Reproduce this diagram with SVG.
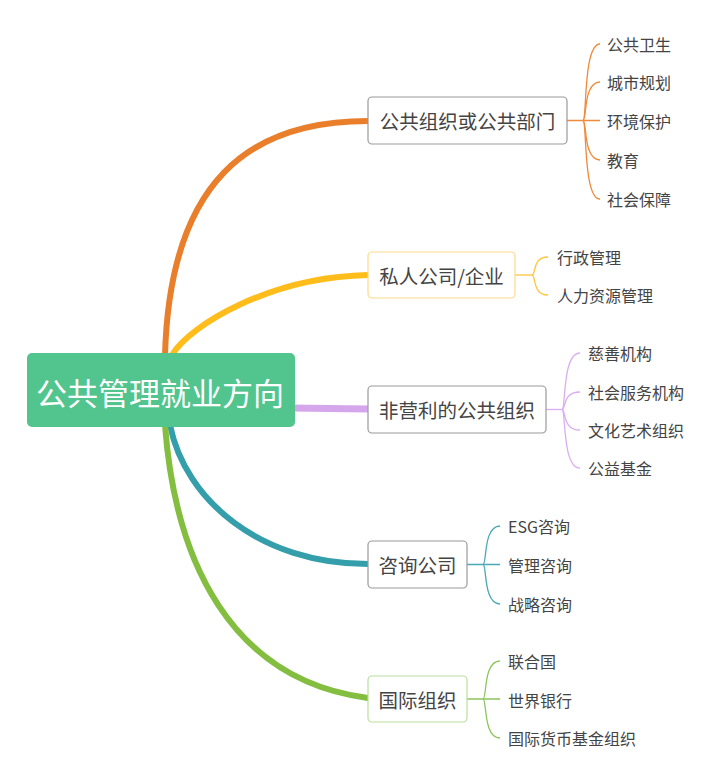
<svg xmlns="http://www.w3.org/2000/svg" width="720" height="779" viewBox="0 0 720 779">
<style>
  text { font-family: "Noto Sans CJK SC", "Noto Sans", sans-serif; fill: #444; dominant-baseline: central; }
  .root-t { fill: #fff; font-size: 31px; text-anchor: middle; }
  .br-t { font-size: 19.5px; text-anchor: middle; }
  .leaf { font-size: 16px; }
  .box { fill: #fff; stroke-width: 1.2; }
  .thick { fill: none; stroke-linecap: round; }
  .thin { fill: none; stroke-width: 1.3; }
</style>
<rect width="720" height="779" fill="#fff"/>
<g id="connectors">
  <path class="thick" d="M165,355 C170,180 250,121 368,121" stroke="#E97F2A" stroke-width="6"/>
  <path class="thick" d="M172,355 C190,325 270,277 368,275" stroke="#FFBD1B" stroke-width="6"/>
  <path class="thick" d="M290,408 L368,409" stroke="#D6A6EC" stroke-width="7" stroke-linecap="butt"/>
  <path class="thick" d="M170,425 C185,500 260,564 368,564" stroke="#349FAA" stroke-width="6"/>
  <path class="thick" d="M165,425 C175,560 230,680 368,698" stroke="#84BE40" stroke-width="6"/>

  <g stroke="#EF8A3A" class="thin">
    <path d="M567,120.5 H600"/>
    <path d="M583,120.5 C587,120.5 583,44 600,44"/>
    <path d="M583,120.5 C587,120.5 583,82 600,82"/>
    <path d="M583,120.5 C587,120.5 583,160 600,160"/>
    <path d="M583,120.5 C587,120.5 583,199 600,199"/>
  </g>
  <g stroke="#FFC53A" class="thin">
    <path d="M515,275 H532"/>
    <path d="M532,275 C536,275 532,257 548,257"/>
    <path d="M532,275 C536,275 532,295 548,295"/>
  </g>
  <g stroke="#D9AEF0" class="thin">
    <path d="M546,409.5 H562"/>
    <path d="M562,409.5 C566,409.5 562,353 580,353"/>
    <path d="M562,409.5 C566,409.5 562,392 580,392"/>
    <path d="M562,409.5 C566,409.5 562,430 580,430"/>
    <path d="M562,409.5 C566,409.5 562,468 580,468"/>
  </g>
  <g stroke="#4AA9B4" class="thin">
    <path d="M467,564.5 H500"/>
    <path d="M483,564.5 C487,564.5 483,526 500,526"/>
    <path d="M483,564.5 C487,564.5 483,604 500,604"/>
  </g>
  <g stroke="#8DC55A" class="thin">
    <path d="M467,699 H500"/>
    <path d="M483,699 C487,699 483,661 500,661"/>
    <path d="M483,699 C487,699 483,738 500,738"/>
  </g>
</g>

<g id="root">
  <rect x="27" y="353" width="268" height="74" rx="5" fill="#52C48E"/>
  <text class="root-t" x="160" y="391">公共管理就业方向</text>
</g>

<g id="n1">
  <rect class="box" x="368" y="97" width="199" height="47" rx="4" stroke="#9A9A9A"/>
  <text class="br-t" x="467.5" y="120.5">公共组织或公共部门</text>
</g>
<g id="n2">
  <rect class="box" x="368" y="252" width="147" height="46" rx="4" stroke="#FFD98A"/>
  <text class="br-t" x="441.5" y="275">私人公司/企业</text>
</g>
<g id="n3">
  <rect class="box" x="368" y="386" width="178" height="47" rx="4" stroke="#9A9A9A"/>
  <text class="br-t" x="457" y="409.5">非营利的公共组织</text>
</g>
<g id="n4">
  <rect class="box" x="368" y="541" width="99" height="47" rx="4" stroke="#9A9A9A"/>
  <text class="br-t" x="417.5" y="564.5">咨询公司</text>
</g>
<g id="n5">
  <rect class="box" x="368" y="676" width="99" height="46" rx="4" stroke="#B9DE9C"/>
  <text class="br-t" x="417.5" y="699">国际组织</text>
</g>

<g id="leaves1">
  <text class="leaf" x="607" y="44">公共卫生</text>
  <text class="leaf" x="607" y="82">城市规划</text>
  <text class="leaf" x="607" y="121">环境保护</text>
  <text class="leaf" x="607" y="160">教育</text>
  <text class="leaf" x="607" y="199">社会保障</text>
</g>
<g id="leaves2">
  <text class="leaf" x="557" y="257">行政管理</text>
  <text class="leaf" x="557" y="295">人力资源管理</text>
</g>
<g id="leaves3">
  <text class="leaf" x="588" y="353">慈善机构</text>
  <text class="leaf" x="588" y="392">社会服务机构</text>
  <text class="leaf" x="588" y="430">文化艺术组织</text>
  <text class="leaf" x="588" y="468">公益基金</text>
</g>
<g id="leaves4">
  <text class="leaf" x="508" y="526">ESG咨询</text>
  <text class="leaf" x="508" y="565">管理咨询</text>
  <text class="leaf" x="508" y="604">战略咨询</text>
</g>
<g id="leaves5">
  <text class="leaf" x="508" y="661">联合国</text>
  <text class="leaf" x="508" y="700">世界银行</text>
  <text class="leaf" x="508" y="738">国际货币基金组织</text>
</g>
</svg>
